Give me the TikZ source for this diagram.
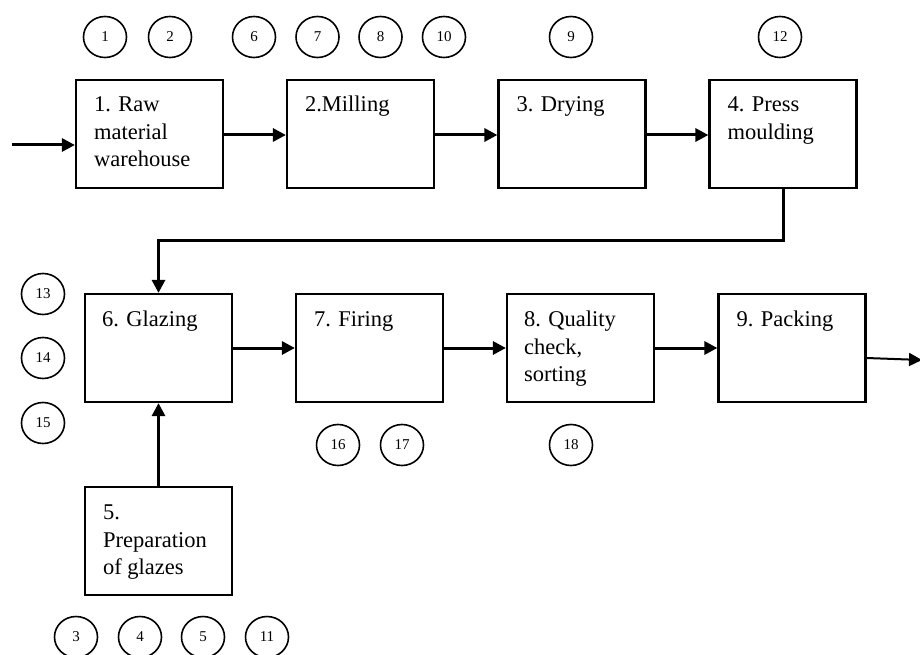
\documentclass[tikz,border=0pt]{standalone}
\usepackage{fontspec}
\setmainfont{Liberation Serif}
\usetikzlibrary{arrows.meta,positioning,calc,shapes.geometric}

\tikzset{
  stage/.style={draw, line width=2.2pt, minimum width=147pt, minimum height=108pt, inner sep=0pt},
  stagetext/.style={anchor=north west, inner sep=0pt, align=left,
                    font=\fontsize{22.5}{27.5}\selectfont, execute at begin node=\strut},
  num/.style={draw, ellipse, line width=1.6pt, minimum width=43pt, minimum height=41pt, inner sep=0pt,
              font=\fontsize{15}{15}\selectfont},
  flow/.style={line width=3pt, -{Triangle[length=13pt,width=13pt]}},
  flowthin/.style={line width=2pt, -{Triangle[length=13pt,width=13pt]}}
}

\begin{document}
\begin{tikzpicture}[x=1pt, y=-1pt]
  \useasboundingbox (0,0) rectangle (920,655);

  % process stages (top row)
  \node[stage] (b1) at (149.5,134) {};
  \node[stage] (b2) at (360.5,134) {};
  \node[stage] (b3) at (572,134) {};
  \node[stage] (b4) at (783,134) {};
  % process stages (bottom row)
  \node[stage] (b6) at (158.5,348) {};
  \node[stage] (b7) at (369.5,348) {};
  \node[stage] (b8) at (580.5,348) {};
  \node[stage] (b9) at (792,348) {};
  \node[stage] (b5) at (158.5,541) {};

  % stage captions
  \node[stagetext] (t1) at ($(b1.north west)+(19,18)$) {1. Raw\\material\\warehouse};
  \node[stagetext] (t2) at ($(b2.north west)+(19,13)$) {2.Milling};
  \node[stagetext] (t3) at ($(b3.north west)+(19,13)$) {3. Drying};
  \node[stagetext] (t4) at ($(b4.north west)+(19,18)$) {4. Press\\moulding};
  \node[stagetext] (t6) at ($(b6.north west)+(18,14)$) {6. Glazing};
  \node[stagetext] (t7) at ($(b7.north west)+(19,14)$) {7. Firing};
  \node[stagetext] (t8) at ($(b8.north west)+(18,18)$) {8. Quality\\check,\\sorting};
  \node[stagetext] (t9) at ($(b9.north west)+(19,14)$) {9. Packing};
  \node[stagetext] (t5) at ($(b5.north west)+(19,19)$) {5.\\Preparation\\of glazes};

  % numbered markers
  \node[num] (c1)  at (105,37) {1};
  \node[num] (c2)  at (170,37) {2};
  \node[num] (c6)  at (254,37) {6};
  \node[num] (c7)  at (317.5,37) {7};
  \node[num] (c8)  at (380.5,37) {8};
  \node[num] (c10) at (444,37) {10};
  \node[num] (c9)  at (571,37) {9};
  \node[num] (c12) at (780,37) {12};
  \node[num] (c13) at (43,294) {13};
  \node[num] (c14) at (43,358) {14};
  \node[num] (c15) at (43,423) {15};
  \node[num] (c16) at (338,445) {16};
  \node[num] (c17) at (402,445) {17};
  \node[num] (c18) at (571,445) {18};
  \node[num] (c3)  at (76,637) {3};
  \node[num] (c4)  at (140,637) {4};
  \node[num] (c5)  at (203,637) {5};
  \node[num] (c11) at (267,637) {11};

  % free ends of the input and output lines
  \coordinate (in)  at (12,145);
  \coordinate (out) at (922,360);

  % material flow
  \draw[flow] (in) -- (b1.west |- in);
  \draw[flow] (b1.east |- 0,135) -- (b2.west |- 0,135);
  \draw[flow] (b2.east |- 0,135) -- (b3.west |- 0,135);
  \draw[flow] (b3.east |- 0,135) -- (b4.west |- 0,135);
  \draw[flow] (b4.south) -- ++(0,51) -| (b6.north);
  \draw[flow] (b5.north) -- (b6.south);
  \draw[flow] (b6.east) -- (b7.west);
  \draw[flow] (b7.east) -- (b8.west);
  \draw[flow] (b8.east) -- (b9.west);
  \draw[flowthin] (b9.east |- 0,358) -- (out);
\end{tikzpicture}
\end{document}
